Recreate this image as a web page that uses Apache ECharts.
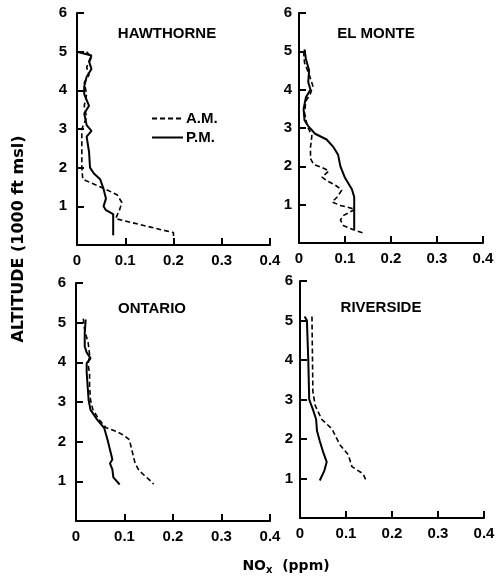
<!DOCTYPE html>
<html>
<head>
<meta charset="utf-8">
<script src="https://cdn.jsdelivr.net/npm/echarts@6/dist/echarts.min.js"></script>
<style>html,body{margin:0;padding:0;background:#fff;}#c{width:498px;height:579px;}</style>
</head>
<body>
<div id="c"></div>
<script>
// ---- data: [NOx ppm, altitude (1000 ft msl)] ----
const panelTitles = ['HAWTHORNE', 'EL MONTE', 'ONTARIO', 'RIVERSIDE'];
const xTickLabels = ['0', '0.1', '0.2', '0.3', '0.4'];
const yTickLabels = ['', '1', '2', '3', '4', '5', '6'];

const hawthorneAM = [[0.02,5.0],[0.03,4.85],[0.02,4.6],[0.025,4.4],[0.015,4.2],[0.02,3.9],[0.015,3.6],[0.02,3.3],[0.01,3.0],[0.01,2.5],[0.01,2.0],[0.012,1.7],[0.03,1.6],[0.058,1.45],[0.083,1.3],[0.093,1.1],[0.088,0.9],[0.08,0.68],[0.2,0.32],[0.2,0.2]];
const hawthornePM = [[0.0,5.0],[0.03,4.9],[0.025,4.75],[0.03,4.55],[0.02,4.35],[0.015,4.1],[0.015,3.9],[0.025,3.6],[0.015,3.4],[0.02,3.1],[0.03,2.95],[0.02,2.8],[0.025,2.4],[0.027,2.0],[0.035,1.85],[0.048,1.7],[0.055,1.45],[0.06,1.2],[0.055,1.0],[0.06,0.9],[0.075,0.8],[0.075,0.25]];

const elMonteAM = [[0.01,5.0],[0.012,4.7],[0.022,4.4],[0.03,4.1],[0.025,3.9],[0.015,3.7],[0.012,3.4],[0.018,3.05],[0.028,2.8],[0.025,2.5],[0.025,2.2],[0.032,2.05],[0.05,1.97],[0.065,1.88],[0.05,1.72],[0.06,1.63],[0.08,1.5],[0.093,1.38],[0.083,1.2],[0.072,1.07],[0.09,0.98],[0.122,0.88],[0.097,0.72],[0.09,0.6],[0.097,0.45],[0.117,0.35],[0.143,0.25]];
const elMontePM = [[0.012,5.05],[0.015,4.8],[0.022,4.5],[0.02,4.2],[0.025,4.0],[0.015,3.8],[0.01,3.5],[0.012,3.2],[0.02,3.05],[0.035,2.85],[0.06,2.7],[0.075,2.5],[0.085,2.3],[0.09,2.0],[0.1,1.7],[0.115,1.4],[0.12,1.2],[0.12,0.9],[0.12,0.35]];

const ontarioAM = [[0.015,5.1],[0.018,4.8],[0.025,4.5],[0.028,4.2],[0.025,3.95],[0.028,3.7],[0.028,3.4],[0.03,3.05],[0.035,2.8],[0.048,2.55],[0.062,2.35],[0.085,2.25],[0.1,2.15],[0.11,2.05],[0.117,1.7],[0.122,1.45],[0.13,1.27],[0.152,1.03],[0.16,0.93]];
const ontarioPM = [[0.02,5.08],[0.018,4.75],[0.018,4.4],[0.022,4.25],[0.03,4.1],[0.022,3.98],[0.022,3.75],[0.024,3.4],[0.026,3.05],[0.03,2.8],[0.044,2.55],[0.058,2.35],[0.065,2.05],[0.072,1.7],[0.075,1.55],[0.07,1.45],[0.075,1.3],[0.077,1.1],[0.09,0.92]];

const riversideAM = [[0.026,5.1],[0.028,3.2],[0.033,2.85],[0.047,2.5],[0.07,2.25],[0.076,2.1],[0.087,1.85],[0.105,1.6],[0.113,1.3],[0.137,1.12],[0.145,0.92]];
const riversidePM = [[0.01,5.1],[0.015,5.0],[0.018,4.0],[0.02,3.0],[0.028,2.75],[0.035,2.5],[0.037,2.2],[0.043,1.95],[0.05,1.68],[0.058,1.42],[0.053,1.2],[0.043,0.95]];

const amSeries = [hawthorneAM, elMonteAM, ontarioAM, riversideAM];
const pmSeries = [hawthornePM, elMontePM, ontarioPM, riversidePM];

// ---- layout ----
const grids = [
  {left: 77, top: 13, width: 193, height: 232},
  {left: 299, top: 13, width: 184, height: 230},
  {left: 76, top: 283, width: 194, height: 238},
  {left: 300, top: 281, width: 184, height: 237}
];
const yLabelMargin = [10, 7, 10, 7];
const titlePos = [[162, 21], [371, 21], [147, 296], [376, 295]];
const FONT = 'Liberation Sans';

const xAxes = [], yAxes = [], series = [], titles = [];
grids.forEach((g, i) => {
  xAxes.push({
    type: 'value', gridIndex: i, min: 0, max: 0.4, interval: 0.1,
    axisLine: {show: true, onZero: false, lineStyle: {color: '#000', width: 2}},
    axisTick: {show: true, inside: true, length: 7, lineStyle: {color: '#000', width: 2}},
    splitLine: {show: false},
    axisLabel: {
      color: '#000', fontFamily: FONT, fontSize: 15, fontWeight: 'bold', margin: 8,
      formatter: v => xTickLabels[Math.round(v * 10)]
    }
  });
  yAxes.push({
    type: 'value', gridIndex: i, min: 0, max: 6, interval: 1,
    axisLine: {show: true, onZero: false, lineStyle: {color: '#000', width: 2}},
    axisTick: {show: true, inside: true, length: 7, lineStyle: {color: '#000', width: 2}},
    splitLine: {show: false},
    axisLabel: {
      color: '#000', fontFamily: FONT, fontSize: 15, fontWeight: 'bold', margin: yLabelMargin[i],
      formatter: v => yTickLabels[Math.round(v)]
    }
  });
  series.push({
    name: 'A.M.', type: 'line', xAxisIndex: i, yAxisIndex: i, data: amSeries[i],
    symbol: 'none', smooth: false, silent: true, color: '#000',
    itemStyle: {color: '#000'},
    lineStyle: {color: '#000', width: 1.6, type: [5, 3]}
  });
  series.push({
    name: 'P.M.', type: 'line', xAxisIndex: i, yAxisIndex: i, data: pmSeries[i],
    symbol: 'none', smooth: false, silent: true, color: '#000',
    itemStyle: {color: '#000'},
    lineStyle: {color: '#000', width: 2, type: 'solid'}
  });
  titles.push({
    text: panelTitles[i], left: titlePos[i][0], top: titlePos[i][1], textAlign: 'center',
    textStyle: {color: '#000', fontFamily: FONT, fontSize: 15, fontWeight: 'bold'}
  });
});

const chart = echarts.init(document.getElementById('c'), null, {renderer: 'canvas'});
chart.setOption({
  backgroundColor: '#fff',
  animation: false,
  title: titles,
  grid: grids,
  xAxis: xAxes,
  yAxis: yAxes,
  series: series,
  legend: {
    data: ['A.M.', 'P.M.'], orient: 'vertical', left: 146, top: 106,
    itemWidth: 31, itemHeight: 12, itemGap: 4, selectedMode: false,
    itemStyle: {opacity: 0},
    textStyle: {color: '#000', fontFamily: FONT, fontSize: 15, fontWeight: 'bold', padding: [0, 0, 0, -2]}
  },
  graphic: [
    {
      type: 'text', x: 19, y: 239, rotation: Math.PI / 2,
      style: {text: 'ALTITUDE (1000 ft msl)', fill: '#000', font: 'bold 16px "DejaVu Sans"',
        textAlign: 'center', textVerticalAlign: 'middle'}
    },
    {
      type: 'text', x: 286, y: 566,
      style: {
        text: '{a|NO}{b|x}{a|  (ppm)}', textAlign: 'center', textVerticalAlign: 'middle',
        rich: {
          a: {fill: '#000', fontFamily: 'DejaVu Sans', fontSize: 14, fontWeight: 'bold'},
          b: {fill: '#000', fontFamily: 'DejaVu Sans', fontSize: 10, fontWeight: 'bold', padding: [8, 0, 0, 0]}
        }
      }
    }
  ]
});
</script>
</body>
</html>
